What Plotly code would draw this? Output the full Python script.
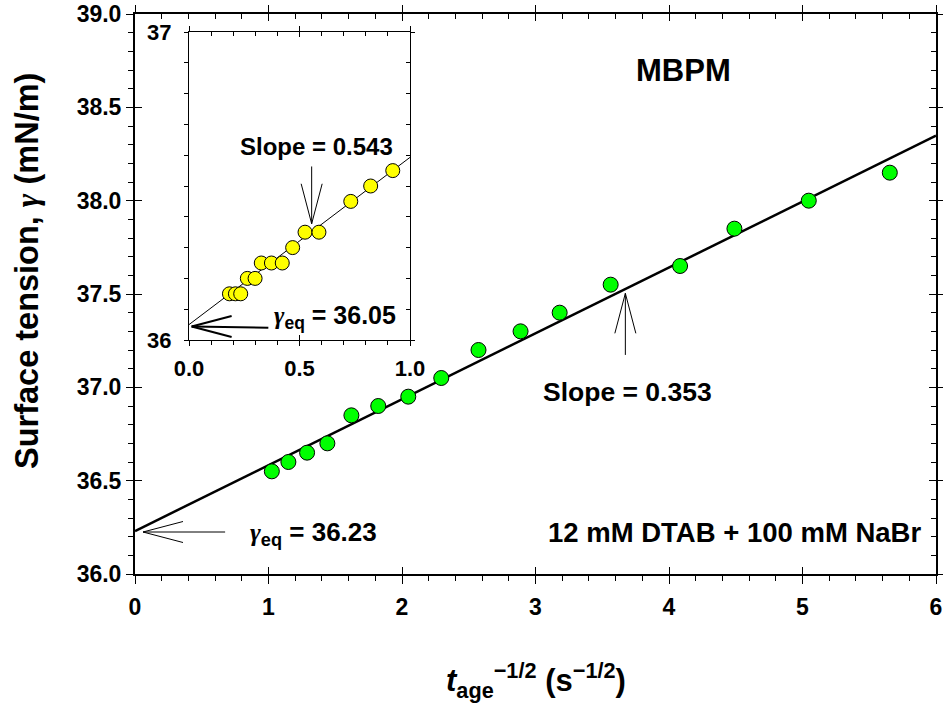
import plotly.graph_objects as go

# ---------------- data ----------------
x_main = [1.025, 1.149, 1.289, 1.441, 1.621, 1.822, 2.047, 2.294,
          2.573, 2.888, 3.181, 3.563, 4.083, 4.490, 5.047, 5.654]
y_main = [36.55, 36.60, 36.65, 36.70, 36.85, 36.90, 36.95, 37.05,
          37.20, 37.30, 37.40, 37.55, 37.65, 37.85, 38.00, 38.15]
main_intercept = 36.23
main_slope = 0.353
main_fit_x = [0, 6]

x_inset = [0.183, 0.210, 0.234, 0.264, 0.299, 0.327, 0.373, 0.422,
           0.469, 0.525, 0.588, 0.732, 0.822, 0.922]
y_inset = [36.15, 36.15, 36.15, 36.20, 36.20, 36.25, 36.25, 36.25,
           36.30, 36.35, 36.35, 36.45, 36.50, 36.55]
inset_intercept = 36.05
inset_slope = 0.543
inset_fit_x = [0, 1.0]

main_xticks = [0, 1, 2, 3, 4, 5, 6]
main_yticks = [36.0, 36.5, 37.0, 37.5, 38.0, 38.5, 39.0]
inset_xticks = [0.0, 0.5, 1.0]
inset_yticks = [36, 37]

# ---------------- layout constants ----------------
W, H = 943, 704
ML, MR, MT, MB = 135, 7, 14, 130
PW, PH = W - ML - MR, H - MT - MB
XR_MAIN, YR_MAIN = [0, 6], [36.0, 39.0]
XR_IN, YR_IN = [0, 1.0], [36, 37]
IN_DOM_X = [(189 - ML) / PW, (410 - ML) / PW]
IN_DOM_Y = [(574 - 340) / PH, (574 - 32) / PH]

FONT = "Liberation Sans, Arial, Helvetica, sans-serif"
GAMMA = '<span style="font-family:Liberation Serif"><i>γ</i></span>'


def fit(x, a, b):
    return [a + b * v for v in x]


fig = go.Figure()

fig.add_trace(go.Scatter(x=main_fit_x, y=fit(main_fit_x, main_intercept, main_slope),
                         mode="lines", line=dict(color="black", width=2.5),
                         xaxis="x", yaxis="y", showlegend=False, hoverinfo="skip"))
fig.add_trace(go.Scatter(x=x_main, y=y_main, mode="markers",
                         marker=dict(size=15, color="#00ff00",
                                     line=dict(color="black", width=1)),
                         xaxis="x", yaxis="y", showlegend=False))
fig.add_trace(go.Scatter(x=inset_fit_x, y=fit(inset_fit_x, inset_intercept, inset_slope),
                         mode="lines", line=dict(color="black", width=1),
                         xaxis="x5", yaxis="y5", showlegend=False, hoverinfo="skip"))
fig.add_trace(go.Scatter(x=x_inset, y=y_inset, mode="markers",
                         marker=dict(size=14, color="#ffff00",
                                     line=dict(color="black", width=1)),
                         xaxis="x5", yaxis="y5", showlegend=False))

# dummy traces so every overlay axis belongs to a subplot
for xa, ya in [("x2", "y"), ("x3", "y"), ("x4", "y"), ("x", "y2"), ("x", "y3"), ("x", "y4"),
               ("x6", "y5"), ("x7", "y5"), ("x8", "y5"), ("x5", "y6"), ("x5", "y7"), ("x5", "y8")]:
    fig.add_trace(go.Scatter(x=[None], y=[None], xaxis=xa, yaxis=ya,
                             showlegend=False, hoverinfo="skip"))


def axis_set(rng, dtick, mdtick, side_lo, side_hi, overl, dom, anchor,
             major_out, major_in, minor_len, lw, tickfont, fmt, standoff, tickvals):
    common = dict(range=rng, showgrid=False, zeroline=False, domain=dom,
                  tickcolor="black", tickwidth=1.2, automargin=False, fixedrange=True)
    a1 = dict(common, anchor=anchor, side=side_lo, tickmode="array", tickvals=tickvals,
              ticks="outside", ticklen=major_out, showline=True, linecolor="black",
              linewidth=lw, tickfont=tickfont, tickformat=fmt, ticklabelstandoff=standoff,
              minor=dict(dtick=mdtick, tick0=rng[0], ticks="outside", ticklen=minor_len,
                         tickcolor="black", tickwidth=1))
    a2 = dict(common, anchor=anchor, overlaying=overl, side=side_lo, dtick=dtick,
              tick0=rng[0], ticks="inside", ticklen=major_in, showticklabels=False,
              showline=False)
    a3 = dict(common, anchor=anchor, overlaying=overl, side=side_hi, dtick=dtick,
              tick0=rng[0], ticks="outside", ticklen=major_out, showticklabels=False,
              showline=False)
    a4 = dict(common, anchor=anchor, overlaying=overl, side=side_hi, dtick=dtick,
              tick0=rng[0], ticks="inside", ticklen=major_in, showticklabels=False,
              showline=True, linecolor="black", linewidth=lw,
              minor=dict(dtick=mdtick, tick0=rng[0], ticks="inside", ticklen=minor_len,
                         tickcolor="black", tickwidth=1))
    return a1, a2, a3, a4


tf_main = dict(family=FONT, size=23, color="black", weight="bold")
tf_in = dict(family=FONT, size=22, color="black", weight="bold")

mx = axis_set(XR_MAIN, 1, 0.2, "bottom", "top", "x", [0, 1], "y", 8, 7, 5, 2,
              tf_main, "d", 3, main_xticks)
my = axis_set(YR_MAIN, 0.5, 0.1, "left", "right", "y", [0, 1], "x", 7, 7, 5, 2,
              tf_main, ".1f", 0, main_yticks)
ix = axis_set(XR_IN, 0.5, 0.1, "bottom", "top", "x5", IN_DOM_X, "y5", 5, 5, 4, 1,
              tf_in, ".1f", 4, inset_xticks)
iy = axis_set(YR_IN, 1, 0.1, "left", "right", "y5", IN_DOM_Y, "x5", 4, 4, 4, 1,
              tf_in, "d", 8, inset_yticks)

layout_axes = {}
for i, a in enumerate(mx):
    layout_axes["xaxis" if i == 0 else f"xaxis{i + 1}"] = a
for i, a in enumerate(my):
    layout_axes["yaxis" if i == 0 else f"yaxis{i + 1}"] = a
for i, a in enumerate(ix):
    layout_axes[f"xaxis{i + 5}"] = a
for i, a in enumerate(iy):
    layout_axes[f"yaxis{i + 5}"] = a

# ---------------- arrows (open V heads) ----------------
PXX_MAIN, PXY_MAIN = PW / 6, PH / 3
PXX_IN = (IN_DOM_X[1] - IN_DOM_X[0]) * PW / 1.0
PXY_IN = (IN_DOM_Y[1] - IN_DOM_Y[0]) * PH / 1.0
HEAD_LEN, HEAD_HALF = 40, 10.5
shapes = []


def arrow(xref, yref, tip, tail, sx, sy, width, direction):
    tx, ty = tip
    shapes.append(dict(type="line", xref=xref, yref=yref, x0=tail[0], y0=tail[1],
                       x1=tx, y1=ty, line=dict(color="black", width=width)))
    if direction == "left":
        for s in (1, -1):
            shapes.append(dict(type="line", xref=xref, yref=yref, x0=tx, y0=ty,
                               x1=tx + HEAD_LEN / sx, y1=ty + s * HEAD_HALF / sy,
                               line=dict(color="black", width=width)))
    else:  # up / down
        sgn = -1 if direction == "up" else 1
        for s in (1, -1):
            shapes.append(dict(type="line", xref=xref, yref=yref, x0=tx, y0=ty,
                               x1=tx + s * HEAD_HALF / sx, y1=ty + sgn * HEAD_LEN / sy,
                               line=dict(color="black", width=width)))


arrow("x", "y", (0.06, main_intercept - 0.005), (0.675, main_intercept - 0.005),
      PXX_MAIN, PXY_MAIN, 1, "left")
xs_main = 3.673
ytip = main_intercept + main_slope * xs_main - 0.023
arrow("x", "y", (xs_main, ytip), (xs_main, ytip - 0.33), PXX_MAIN, PXY_MAIN, 1, "up")
arrow("x5", "y5", (0.012, inset_intercept - 0.006), (0.359, inset_intercept - 0.01),
      PXX_IN, PXY_IN, 2, "left")
xs_in = 0.555
ytip_in = inset_intercept + inset_slope * xs_in + 0.026
arrow("x5", "y5", (xs_in, ytip_in), (xs_in, ytip_in + 0.186), PXX_IN, PXY_IN, 1, "down")


# ---------------- annotations ----------------
def ann(text, x, y, xref, yref, size, xanchor="center", yanchor="middle", angle=0):
    return dict(text=text, x=x, y=y, xref=xref, yref=yref, showarrow=False,
                xanchor=xanchor, yanchor=yanchor, textangle=angle,
                font=dict(family=FONT, size=size, color="black", weight="bold"))


annotations = [
    ann("MBPM", 4.108, 38.695, "x", "y", 31),
    ann(f"Slope = {main_slope:.3f}", 3.688, 36.975, "x", "y", 26.5),
    ann(f"{GAMMA}<sub>eq</sub> = {main_intercept:.2f}", 0.85, 36.215, "x", "y", 26,
        xanchor="left"),
    ann("12 mM DTAB + 100 mM NaBr", 4.49, 36.225, "x", "y", 27.5),
    ann(f"Slope = {inset_slope:.3f}", 0.578, 36.628, "x5", "y5", 24),
    ann(f"{GAMMA}<sub>eq</sub> = {inset_intercept:.2f}", 0.376, 36.075, "x5", "y5", 25,
        xanchor="left"),
    ann("<i>t</i><sub>age</sub><sup>−1/2</sup> (s<sup>−1/2</sup>)",
        (536 - ML) / PW, (574 - 680) / PH, "paper", "paper", 31),
    ann(f"Surface tension, {GAMMA} (mN/m)", (27 - ML) / PW, (574 - 271) / PH,
        "paper", "paper", 32.5, angle=-90),
]

fig.update_layout(
    width=W, height=H, autosize=False,
    margin=dict(l=ML, r=MR, t=MT, b=MB, pad=0, autoexpand=False),
    paper_bgcolor="white", plot_bgcolor="white",
    showlegend=False, shapes=shapes, annotations=annotations,
    **layout_axes,
)

fig.write_html("out.html")
